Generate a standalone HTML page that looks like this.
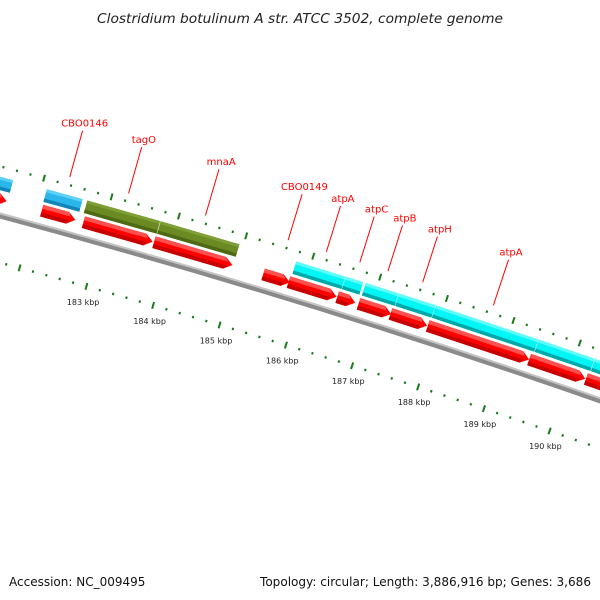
<!DOCTYPE html>
<html><head><meta charset="utf-8"><style>
html,body{margin:0;padding:0;background:#fff}
svg{display:block}
text{font-family:"DejaVu Sans","Liberation Sans",sans-serif}
</style></head><body>
<svg id="map" width="600" height="600" viewBox="0 0 600 600" xmlns="http://www.w3.org/2000/svg">
<rect width="600" height="600" fill="#fff"/>
<text x="300" y="23" text-anchor="middle" font-size="13" font-style="italic" fill="#222" textLength="406" lengthAdjust="spacingAndGlyphs">Clostridium botulinum A str. ATCC 3502, complete genome</text>
<g id="backbone"></g>
<g id="ticks"></g>
<g id="feats"></g>
<g id="labels"></g>
<text x="9" y="586" font-size="12" fill="#111">Accession: NC_009495</text>
<text x="591" y="586" text-anchor="end" font-size="12" fill="#111" textLength="331" lengthAdjust="spacingAndGlyphs">Topology: circular; Length: 3,886,916 bp; Genes: 3,686</text>
</svg>
<script>
// data (kbp)
const redStarts = [181.0, 182.09, 182.71, 183.76, 185.39, 185.77, 186.50, 186.82, 187.30, 187.86, 189.39, 190.25];
const redEnds   = [181.57, 182.59, 183.74, 184.93, 185.79, 186.49, 186.77, 187.31, 187.85, 189.39, 190.24, 191.2];
const topStarts = [181.0, 182.08, 182.68, 183.77, 185.79, 186.53, 186.83, 187.33, 187.88, 189.43, 190.28];
const topEnds   = [181.59, 182.62, 183.77, 184.95, 186.53, 186.80, 187.33, 187.88, 189.43, 190.28, 191.2];
const topTypes  = ['blue','blue','green','green','cyan','cyan','cyan','cyan','cyan','cyan','cyan'];
const geneNames = ['CBO0146','tagO','mnaA','CBO0149','atpA','atpC','atpB','atpH','atpA'];
const geneCenters = [182.35, 183.22, 184.36, 185.59, 186.16, 186.66, 187.08, 187.60, 188.66];
const tickLabels = [183, 184, 185, 186, 187, 188, 189, 190];

const NS = 'http://www.w3.org/2000/svg';
const CX = -2199, CY = 8422.5, RB = 8500;
function ang(k){ return (-74.31 + (k - 183) * 0.47) * Math.PI / 180; }
function P(k, r){ const a = ang(k); return [CX + r * Math.cos(a), CY + r * Math.sin(a)]; }
function ps(arr){ return arr.map(p => p[0].toFixed(2) + ',' + p[1].toFixed(2)).join(' '); }
function mk(tag, attrs, parent){ const e = document.createElementNS(NS, tag); for (const k in attrs) e.setAttribute(k, attrs[k]); parent.appendChild(e); return e; }
function arcPath(k1, k2, r){ const a = P(k1, r), b = P(k2, r); return 'M' + a[0] + ',' + a[1] + ' A' + r + ',' + r + ' 0 0 1 ' + b[0] + ',' + b[1]; }

// backbone
const bb = document.getElementById('backbone');
let e;
e = mk('path', {d: arcPath(180, 192.5, RB - 4), stroke: '#8a8a8a', 'stroke-width': 5, fill: 'none'}, bb);


e = mk('path', {d: arcPath(180, 192.5, RB - 1.5), stroke: '#c4c4c4', 'stroke-width': 2, fill: 'none'}, bb);



// ticks
const tg = document.getElementById('ticks');
const TC = '#1a7a1a';
for (let i = 0; i <= 65; i++) {
  const k = 180 + i * 0.2;
  const major = Math.abs(k - Math.round(k)) < 0.01;
  const hl = major ? 3.5 : 1.2;
  [8451, 8544].forEach(r => {
    const a = P(k, r - hl), b = P(k, r + hl);
    const t = mk('line', {x1: a[0], y1: a[1], x2: b[0], y2: b[1], stroke: TC, 'stroke-width': 2}, tg);
    
    
  });
}
tickLabels.forEach(k => {
  const p = P(k, 8435);
  const t = mk('text', {x: p[0] + 1, y: p[1] + 3, 'text-anchor': 'middle', 'font-size': 8, fill: '#222'}, tg);
  t.textContent = k + ' kbp';
  
  
});

// features
const fg = document.getElementById('feats');
const RI = 8506, RO = 8518;
redStarts.forEach((s, i) => {
  const en = redEnds[i];
  let h = 0.115; if (h > (en - s) * 0.6) h = (en - s) * 0.6;
  const mid = (RI + RO) / 2;
  const g = mk('g', {}, fg);
  
  
  mk('polygon', {points: ps([P(s, RI), P(s, RO), P(en - h, RO), P(en, mid), P(en - h, RI)]), fill: '#f00'}, g);
  mk('polygon', {points: ps([P(s, RO), P(en - h, RO), P(en - h * 0.67, RO - 4), P(s, RO - 4)]), fill: '#ff5050'}, g);
  mk('polygon', {points: ps([P(s, RI), P(en - h, RI), P(en - h * 0.67, RI + 4), P(s, RI + 4)]), fill: '#c80000'}, g);
});
const TI = 8521, TO = 8534;
const colMain = {blue: '#2ab6ea', green: '#6b8a23', cyan: '#00f5f5'};
const colTop = {blue: '#5cd0f5', green: '#7f9e35', cyan: '#5ffcfc'};
const colBot = {blue: '#1184b8', green: '#4e6a14', cyan: '#00a9a9'};
topStarts.forEach((s, i) => {
  const en = topEnds[i], ty = topTypes[i];
  const g = mk('g', {}, fg);
  
  
  mk('polygon', {points: ps([P(s, TI), P(s, TO), P(en, TO), P(en, TI)]), fill: colMain[ty]}, g);
  mk('polygon', {points: ps([P(s, TO), P(en, TO), P(en, TO - 3), P(s, TO - 3)]), fill: colTop[ty]}, g);
  mk('polygon', {points: ps([P(s, TI), P(en, TI), P(en, TI + 3.5), P(s, TI + 3.5)]), fill: colBot[ty]}, g);
  const a = P(en, TI - 1), b = P(en, TO + 1);
  mk('line', {x1: a[0], y1: a[1], x2: b[0], y2: b[1], stroke: '#fff', 'stroke-width': 1}, g);
});

// gene labels
const lg = document.getElementById('labels');
geneNames.forEach((n, i) => {
  const k = geneCenters[i];
  const a = P(k, 8552), b = P(k, 8600), c = P(k, 8608);
  const l = mk('line', {x1: a[0], y1: a[1], x2: b[0], y2: b[1], stroke: '#f00', 'stroke-width': 1}, lg);
  
  
  const t = mk('text', {x: c[0], y: c[1] + 3.5, 'text-anchor': 'middle', 'font-size': 10, fill: '#f00'}, lg);
  t.textContent = n;
  
  
});
</script>
</body></html>
